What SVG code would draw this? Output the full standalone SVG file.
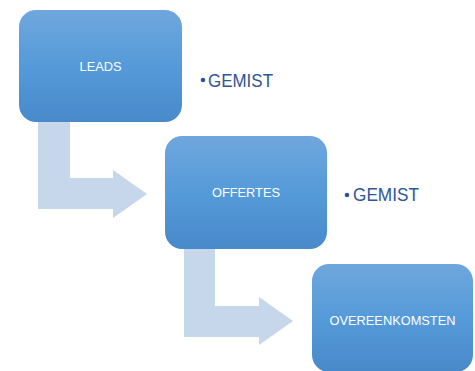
<svg xmlns="http://www.w3.org/2000/svg" width="475" height="371" viewBox="0 0 475 371">
  <defs>
    <linearGradient id="boxFill" x1="0" y1="0" x2="0" y2="1">
      <stop offset="0" stop-color="#6FA7DD"/>
      <stop offset="0.5" stop-color="#559AD9"/>
      <stop offset="1" stop-color="#4889CA"/>
    </linearGradient>
    <style>
      .box { fill: url(#boxFill); }
      .bent { fill: #C6D6EB; }
      .label { font-family: "Liberation Sans", Arial, sans-serif; font-size: 12.8px; fill: #FFFFFF; text-anchor: middle; }
      .bullet { font-family: "Liberation Sans", Arial, sans-serif; font-size: 18px; fill: #2F5597; }
      .dot { fill: #2F5597; }
    </style>
  </defs>

  <!-- bent-up arrows between steps -->
  <g id="connectors">
    <path class="bent" d="M38,122 H70 V178 H113 V170 L147,194 L113,218 V209 H38 Z"/>
    <path class="bent" d="M184,249 H215 V306 H259 V297 L293,321 L259,345 V337 H184 Z"/>
  </g>

  <g id="leads">
    <rect class="box" x="19" y="10" width="163" height="112" rx="17"/>
    <text class="label" x="100.5" y="71">LEADS</text>
  </g>

  <g id="offertes">
    <rect class="box" x="165" y="136" width="162" height="113" rx="17"/>
    <text class="label" x="246" y="197">OFFERTES</text>
  </g>

  <g id="overeenkomsten">
    <rect class="box" x="312" y="264" width="161" height="108" rx="17"/>
    <text class="label" x="392.5" y="325">OVEREENKOMSTEN</text>
  </g>

  <g id="gemist-1">
    <circle class="dot" cx="203" cy="80" r="2.3"/>
    <text class="bullet" x="208" y="87" textLength="65" lengthAdjust="spacingAndGlyphs">GEMIST</text>
  </g>

  <g id="gemist-2">
    <circle class="dot" cx="347" cy="195" r="2.3"/>
    <text class="bullet" x="353" y="201" textLength="66" lengthAdjust="spacingAndGlyphs">GEMIST</text>
  </g>
</svg>
